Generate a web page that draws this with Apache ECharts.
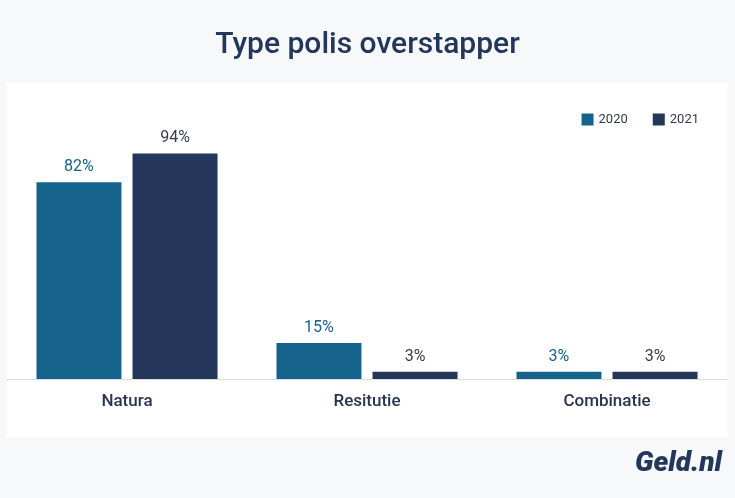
<!DOCTYPE html>
<html>
<head>
<meta charset="utf-8">
<script src="https://cdn.jsdelivr.net/npm/echarts@6/dist/echarts.min.js"></script>
<style>
  html, body { margin: 0; padding: 0; background: #f7f8fa; }
  #chart { width: 735px; height: 498px; }
</style>
</head>
<body>
<div id="chart"></div>
<script>
// data
const categories = ['Natura', 'Resitutie', 'Combinatie']
const values2020 = [82, 15, 3]
const values2021 = [94, 3, 3]

const color2020 = '#15638d'
const color2021 = '#24375a'

const chart = echarts.init(document.getElementById('chart'))

chart.setOption({
  backgroundColor: '#f7f8fa',
  textStyle: { fontFamily: 'Roboto' },
  title: {
    text: 'Type polis overstapper',
    left: 'center',
    top: 25,
    textStyle: { fontSize: 30, fontWeight: 500, color: '#23375a', fontFamily: 'Roboto' }
  },
  graphic: [
    { // white panel behind the chart
      type: 'rect',
      z: -1,
      shape: { x: 7, y: 83, width: 720, height: 354 },
      style: { fill: '#ffffff' }
    },
    {
      type: 'text',
      right: 13,
      top: 450,
      style: {
        text: 'Geld.nl',
        font: 'italic 900 28px Roboto',
        fill: '#23375a'
      }
    }
  ],
  legend: {
    right: 31,
    top: 108,
    itemWidth: 12,
    itemHeight: 12,
    itemGap: 25,
    icon: 'rect',
    textStyle: { fontSize: 13, color: '#333a4a' },
    data: ['2020', '2021']
  },
  grid: {
    left: 7,
    right: 8,
    top: 139,
    bottom: 119
  },
  xAxis: {
    type: 'category',
    data: categories,
    axisTick: { show: false },
    axisLine: { lineStyle: { color: '#dcdcdc' } },
    axisLabel: { fontSize: 17, fontWeight: 500, color: '#2a3450', margin: 14 }
  },
  yAxis: {
    type: 'value',
    min: 0,
    max: 100,
    show: false
  },
  series: [{
    name: '2020',
    type: 'bar',
    barWidth: 85,
    barGap: '13%',
    itemStyle: { color: color2020 },
    label: { show: true, position: 'top', distance: 7, formatter: '{c}%', fontSize: 16, color: color2020 },
    data: values2020
  }, {
    name: '2021',
    type: 'bar',
    barWidth: 85,
    barGap: '13%',
    itemStyle: { color: color2021 },
    label: { show: true, position: 'top', distance: 7, formatter: '{c}%', fontSize: 16, color: '#363d4f' },
    data: values2021
  }]
})
</script>
</body>
</html>
